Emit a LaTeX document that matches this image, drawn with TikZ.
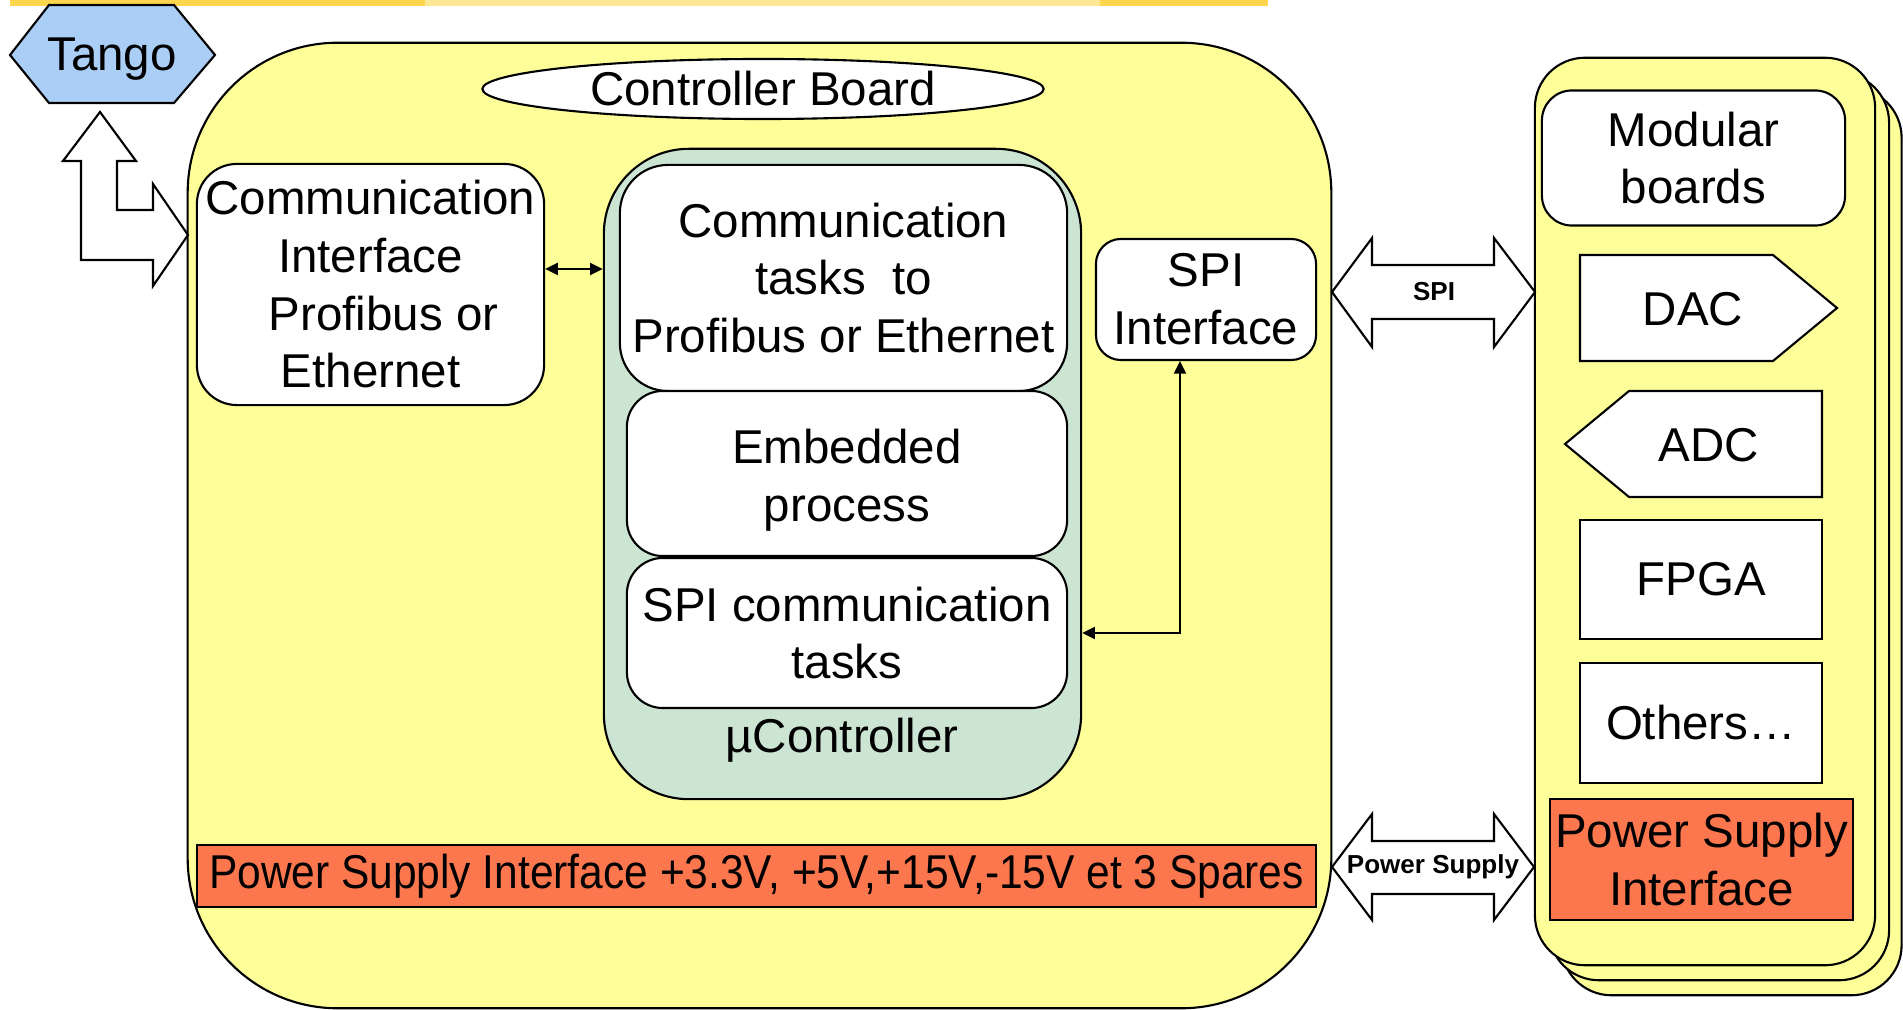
\documentclass[tikz,border=0pt]{standalone}
\usepackage{fontspec}
\setmainfont{Liberation Sans}
\usepackage{graphicx}
\usetikzlibrary{arrows.meta, shapes.geometric}

\definecolor{boardyellow}{RGB}{255,255,153}
\definecolor{ucgreen}{RGB}{204,229,210}
\definecolor{tangoblue}{RGB}{170,206,245}
\definecolor{psorange}{RGB}{252,118,78}
\definecolor{bannergold}{RGB}{253,214,78}

\newcommand{\bigtxt}{\fontsize{13.5}{16.4}\selectfont}
\newcommand{\smalltxt}{\fontsize{7.4}{9}\selectfont\bfseries}

\begin{document}
\begin{tikzpicture}[x=0.01cm, y=-0.01cm, line width=0.6pt, font=\bigtxt,
    >={Triangle[length=3.6pt, width=3.4pt]},
    board/.style={draw, fill=boardyellow, inner sep=0pt},
    panel/.style={draw, fill=white, align=center, inner sep=0pt},
    psbox/.style={draw, fill=psorange, align=center, inner sep=0pt},
    blockarrow/.style={draw, fill=white},
    link/.style={<->}]
  \useasboundingbox (0,0) rectangle (1903,1010);

  % banner strip at the top
  \fill[bannergold] (10,0) rectangle (1268,6);
  \fill[bannergold!60!white] (425,0) rectangle (1100,6);

  % controller board
  \node[board, rounded corners=1.5cm, minimum width=11.43cm, minimum height=9.65cm] (ctrl) at (759.5,525.5) {};
  \node[ellipse, draw, fill=white, inner sep=0pt, minimum width=5.61cm, minimum height=0.6cm] (title) at (763,89) {Controller Board};
  \node[panel, rounded corners=0.4cm, minimum width=3.47cm, minimum height=2.41cm] (comif) at (370.5,284.5)
    {Communication\\Interface\\\hspace{7.5pt}Profibus or\\Ethernet};

  % microcontroller
  \node[draw, fill=ucgreen, rounded corners=0.85cm, minimum width=4.77cm, minimum height=6.5cm] (uc) at (842.5,474) {};
  \node[panel, rounded corners=0.48cm, minimum width=4.47cm, minimum height=2.26cm] (comtasks) at (843.5,278)
    {Communication\\tasks~~to\\Profibus or Ethernet};
  \node[panel, rounded corners=0.36cm, minimum width=4.40cm, minimum height=1.65cm] (embedded) at (847,473.5) {};
  \node[align=center] (embeddedtext) at ([yshift=-0.07cm]embedded.center) {Embedded\\process};
  \node[panel, rounded corners=0.36cm, minimum width=4.40cm, minimum height=1.50cm] (spitasks) at (847,633)
    {SPI communication\\tasks};
  \node (uclabel) at (842,740) {µController};

  \node[panel, rounded corners=0.25cm, minimum width=2.20cm, minimum height=1.21cm] (spiif) at (1206,299.5)
    {SPI\\Interface};
  \node[psbox, minimum width=11.19cm, minimum height=0.62cm] (psbar) at (756.5,876)
    {\scalebox{0.895}[1]{Power Supply Interface +3.3V, +5V,+15V,-15V et 3 Spares}};

  \draw[link] ([yshift=0.155cm]comif.east) -- ([yshift=0.155cm]comif.east -| uc.west);
  \draw[link] (spitasks.east -| uc.east) -| ([xshift=-0.26cm]spiif.south);

  % tango
  \draw[fill=tangoblue] (10,55) -- (49,5) -- (174,5) -- (215,55) -- (174,103) -- (49,103) -- cycle;
  \node (tango) at (112,59) {Tango};
  \draw[blockarrow] (100,112) -- (136,161) -- (117,161) -- (117,210) -- (153,210) -- (153,184)
    -- (188,235) -- (153,286) -- (153,260) -- (81,260) -- (81,161) -- (63,161) -- cycle;

  % modular boards stack
  \node[board, rounded corners=0.5cm, minimum width=3.40cm, minimum height=9.07cm] (stackc) at (1731.5,541.5) {};
  \node[board, rounded corners=0.5cm, minimum width=3.40cm, minimum height=9.07cm] (stackb) at (1719,526.5) {};
  \node[board, rounded corners=0.5cm, minimum width=3.40cm, minimum height=9.07cm] (stacka) at (1705,511.5) {};
  \node[panel, rounded corners=0.3cm, minimum width=3.03cm, minimum height=1.35cm] (modular) at (1693.5,158)
    {Modular\\boards};
  \draw[fill=white] (1580,255) -- (1773,255) -- (1837,308) -- (1773,361) -- (1580,361) -- cycle;
  \node (dac) at (1693,309) {DAC};
  \draw[fill=white] (1565,444) -- (1629,391) -- (1822,391) -- (1822,497) -- (1629,497) -- cycle;
  \node (adc) at (1709,445) {ADC};
  \node[panel, minimum width=2.42cm, minimum height=1.19cm] (fpga) at (1701,579.5) {FPGA};
  \node[panel, minimum width=2.42cm, minimum height=1.20cm] (others) at (1701,723) {Others…};
  \node[psbox, minimum width=3.03cm, minimum height=1.21cm] (psright) at (1701.5,859.5)
    {Power Supply\\Interface};

  % links between the boards
  \draw[blockarrow] (1332,292) -- (1372,238) -- (1372,265) -- (1494,265) -- (1494,238) -- (1535,292)
    -- (1494,347) -- (1494,319) -- (1372,319) -- (1372,347) -- cycle;
  \node[font=\smalltxt] (spiarrow) at (1434,292) {SPI};
  \draw[blockarrow] (1332,867) -- (1372,814) -- (1372,841) -- (1494,841) -- (1494,814) -- (1534,867)
    -- (1494,920) -- (1494,894) -- (1372,894) -- (1372,920) -- cycle;
  \node[font=\smalltxt] (psarrow) at (1433,867) {Power Supply};
\end{tikzpicture}
\end{document}
